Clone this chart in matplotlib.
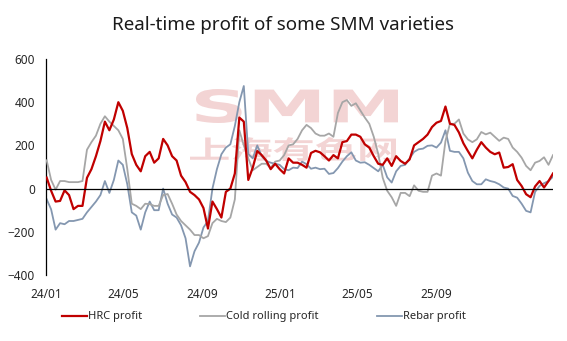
import numpy as np
import pandas as pd
import matplotlib
matplotlib.use("Agg")
import matplotlib.pyplot as plt
from matplotlib.textpath import TextPath
from matplotlib.patches import PathPatch
from matplotlib.font_manager import FontProperties
from matplotlib.transforms import Affine2D

# weekly samples, 2024-01-02 .. 2026-03-03
dates = pd.date_range("2024-01-02", periods=114, freq="7D")

hrc_profit = [
    51, -10, -60, -57, -8, -30, -95, -80, -80, 50,
    90, 150, 220, 310, 270, 320, 400, 360, 280, 160,
    110, 80, 150, 170, 120, 140, 230, 200, 150, 130,
    60, 30, -15, -30, -50, -90, -185, -60, -95, -134,
    -15, 0, 70, 329, 310, 40, 97, 174, 155, 130,
    90, 115, 90, 70, 140, 120, 120, 110, 97, 165,
    175, 168, 150, 130, 155, 140, 215, 220, 250, 250,
    240, 205, 190, 150, 115, 110, 140, 105, 150, 128,
    115, 135, 200, 215, 230, 250, 285, 305, 313, 380,
    300, 295, 260, 210, 174, 140, 180, 215, 190, 170,
    159, 167, 97, 100, 113, 40, 12, -26, -40, 10,
    35, 5, 35, 70,
]

cold_rolling_profit = [
    131, 40, -5, 35, 35, 30, 30, 30, 35, 180,
    215, 245, 300, 335, 310, 290, 270, 230, 90, -70,
    -80, -95, -70, -72, -80, -80, -30, -25, -70, -120,
    -150, -170, -190, -215, -215, -230, -220, -160, -140, -150,
    -155, -134, -50, 270, 200, 140, 85, 100, 115, 115,
    95, 125, 130, 155, 200, 205, 230, 270, 295, 280,
    255, 245, 245, 255, 240, 350, 400, 410, 383, 395,
    362, 329, 300, 240, 160, 50, -10, -40, -80, -20,
    -20, -35, 15, -10, -15, -15, 60, 70, 60, 220,
    300, 300, 320, 255, 228, 215, 228, 262, 251, 259,
    240, 221, 236, 230, 190, 170, 143, 105, 85, 120,
    128, 145, 110, 155,
]

rebar_profit = [
    -49, -96, -190, -160, -165, -150, -150, -145, -140, -110,
    -85, -60, -30, 35, -20, 40, 130, 110, 20, -110,
    -125, -190, -110, -60, -100, -100, 0, -70, -120, -134,
    -170, -230, -360, -290, -250, -180, -150, 0, 90, 159,
    190, 205, 290, 400, 475, 160, 140, 200, 150, 128,
    120, 115, 110, 90, 85, 97, 95, 125, 113, 92,
    97, 90, 92, 68, 72, 95, 125, 150, 168, 130,
    120, 122, 110, 95, 80, 110, 52, 28, 80, 105,
    110, 140, 170, 182, 185, 198, 200, 190, 213, 270,
    175, 170, 170, 140, 74, 35, 20, 20, 43, 35,
    30, 20, 5, 0, -34, -42, -70, -103, -110, -15,
    12, 25, 35, 55,
]

tick_dates = ["2024-01-01", "2024-05-01", "2024-09-01", "2025-01-01", "2025-05-01", "2025-09-01"]
tick_labels = ["24/01", "24/05", "24/09", "25/01", "25/05", "25/09"]

W, H, DPI = 567, 341, 100
fig = plt.figure(figsize=(W / DPI, H / DPI), dpi=DPI)
ax = fig.add_axes([46 / W, 1 - 275 / H, (553 - 46) / W, (275 - 59) / H])

txt_font = "Noto Sans"
txt_color = "#262626"


def stamp(text, box, prop):
    # text as a filled path stretched into a pixel box (x0, y0, x1, y1), top-left origin
    tp = TextPath((0, 0), text, size=10, prop=prop)
    bb = tp.get_extents()
    x0, y0, x1, y1 = box
    tr = (Affine2D().translate(-bb.x0, -bb.y0)
          .scale((x1 - x0) / bb.width, (y1 - y0) / bb.height)
          .translate(x0, H - y1)
          .scale(1 / DPI) + fig.dpi_scale_trans)
    ax.add_patch(PathPatch(tp, transform=tr, facecolor="#f3d4d4", edgecolor="none",
                           zorder=0, clip_on=False))


stamp("SMM", (196, 89, 398, 123), FontProperties(family="DejaVu Sans", weight="bold"))
stamp("上海有色网", (190, 137, 396, 161), FontProperties(family="Noto Sans CJK SC", weight="bold"))

ax.plot(dates, hrc_profit, color="#c00000", lw=1.6, label="HRC profit", zorder=4)
ax.plot(dates, cold_rolling_profit, color="#a6a6a6", lw=1.3, label="Cold rolling profit", zorder=3)
ax.plot(dates, rebar_profit, color="#8497b0", lw=1.3, label="Rebar profit", zorder=2)

ax.axhline(0, color="black", lw=0.9, zorder=5)

ax.set_ylim(-400, 600)
ax.set_yticks(np.arange(-400, 601, 200))
ax.set_xlim(pd.Timestamp("2024-01-01"), dates[-1])
ax.set_xticks(pd.to_datetime(tick_dates))
ax.set_xticklabels(tick_labels)

for s in ["top", "right", "bottom"]:
    ax.spines[s].set_visible(False)
ax.spines["left"].set_color("black")
ax.spines["left"].set_linewidth(0.9)
ax.tick_params(axis="both", length=0, labelsize=8.5, labelcolor=txt_color)
ax.tick_params(axis="y", pad=8)
ax.tick_params(axis="x", pad=9)
for lab in ax.get_xticklabels() + ax.get_yticklabels():
    lab.set_family(txt_font)

fig.text(283.5 / W, 1 - 25 / H, "Real-time profit of some SMM varieties",
         ha="center", va="center", fontsize=13.5, family=txt_font, color="#1a1a1a")

fig.legend(loc="center", bbox_to_anchor=(264 / W, 1 - 317 / H), ncol=3, frameon=False,
           handlelength=2.25, handletextpad=0.1, columnspacing=5.2,
           prop=FontProperties(family=txt_font, size=8), labelcolor=txt_color)

fig.savefig("out.png", dpi=DPI)
